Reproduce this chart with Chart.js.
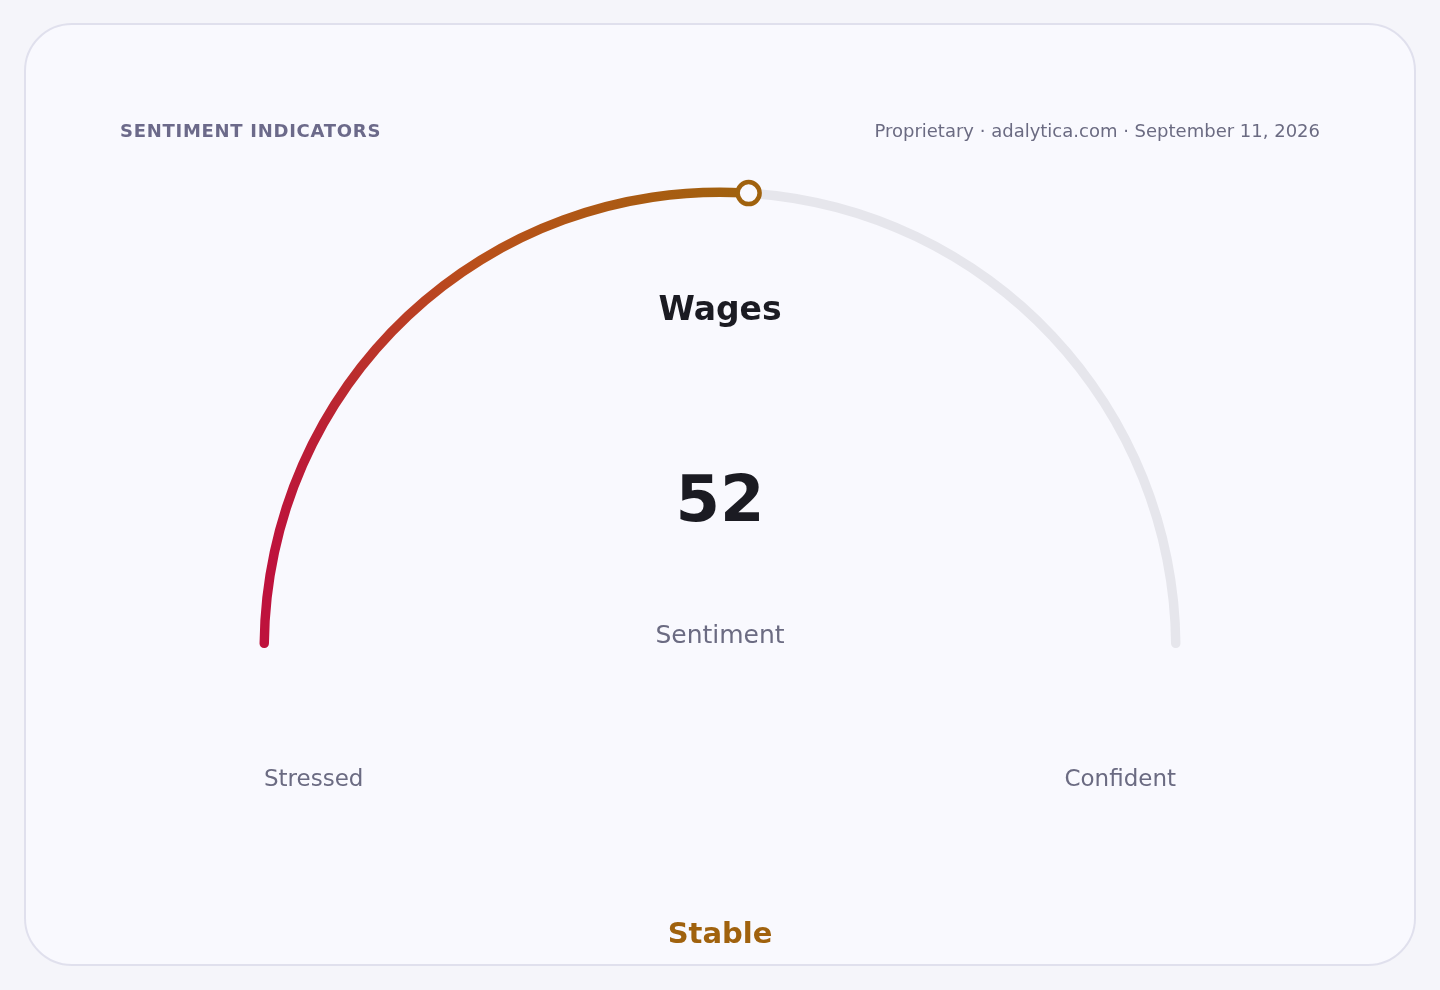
<!DOCTYPE html>
<html lang="en">
<head>
  <meta charset="UTF-8">
  <title>Sentiment Indicators</title>
  <script src="https://cdn.jsdelivr.net/npm/chart.js"></script>
  <style>
    * {
      box-sizing: border-box;
    }
    body {
      margin: 0;
      width: 1440px;
      height: 990px;
      background: #f5f5fa;
      font-family: "DejaVu Sans", sans-serif;
      position: relative;
      overflow: hidden;
    }
    .card {
      position: absolute;
      left: 24px;
      top: 23px;
      width: 1392px;
      height: 943px;
      background: #f9f9fe;
      border: 2px solid #e0e0ed;
      border-radius: 48px;
    }
    canvas {
      position: absolute;
      left: 0;
      top: 0;
    }
    .txt {
      position: absolute;
      line-height: 1;
      white-space: nowrap;
    }
    .center {
      left: 0;
      width: 1440px;
      text-align: center;
    }
    #kicker {
      left: 120px;
      top: 121.8px;
      font-size: 18px;
      font-weight: bold;
      letter-spacing: 0.72px;
      color: #6c6a8a;
    }
    #source {
      right: 120px;
      top: 121.8px;
      font-size: 18px;
      color: #6b6b82;
    }
    #metric {
      top: 292px;
      font-size: 33px;
      font-weight: bold;
      color: #1b1b22;
    }
    #value {
      top: 467px;
      font-size: 64px;
      font-weight: bold;
      color: #1b1b22;
    }
    #unit {
      top: 622px;
      font-size: 25px;
      color: #6b6b82;
    }
    #lowLabel {
      left: 264px;
      top: 766.5px;
      font-size: 23px;
      color: #6b6b82;
    }
    #highLabel {
      right: 264px;
      top: 766.5px;
      font-size: 23px;
      color: #6b6b82;
    }
    #status {
      top: 918.5px;
      font-size: 29px;
      font-weight: bold;
      color: #a0620e;
    }
  </style>
</head>
<body>
  <div class="card"></div>
  <canvas id="gauge" width="1440" height="990"></canvas>

  <div id="kicker" class="txt"></div>
  <div id="source" class="txt"></div>
  <div id="metric" class="txt center"></div>
  <div id="value" class="txt center"></div>
  <div id="unit" class="txt center"></div>
  <div id="lowLabel" class="txt"></div>
  <div id="highLabel" class="txt"></div>
  <div id="status" class="txt center"></div>

  <script>
    // data
    const scaleRange = [0, 100];
    const sentimentValue = 52;
    const endLabels = ["Stressed", "Confident"];
    const metricName = "Wages";
    const unitName = "Sentiment";
    const statusText = "Stable";
    const kickerText = "SENTIMENT INDICATORS";
    const sourceText = "Proprietary · adalytica.com · September 11, 2026";

    const segLabels = ["Value", "Remaining"];
    const segValues = [sentimentValue - scaleRange[0], scaleRange[1] - sentimentValue];

    const trackColor = "#e6e6ec";
    const markerColor = "#a0620e";
    const cardBg = "#f9f9fe";

    document.getElementById("kicker").textContent = kickerText;
    document.getElementById("source").textContent = sourceText;
    document.getElementById("metric").textContent = metricName;
    document.getElementById("value").textContent = sentimentValue;
    document.getElementById("unit").textContent = unitName;
    document.getElementById("lowLabel").textContent = endLabels[0];
    document.getElementById("highLabel").textContent = endLabels[1];
    document.getElementById("status").textContent = statusText;

    function segmentColor(context) {
      if (context.dataIndex !== 0) return trackColor;
      const chart = context.chart;
      const a = chart.chartArea;
      if (!a) return "#be123c";
      const cx = (a.left + a.right) / 2;
      const cy = a.bottom;
      const frac = (sentimentValue - scaleRange[0]) / (scaleRange[1] - scaleRange[0]) / 2;
      const g = chart.ctx.createConicGradient(Math.PI - 0.05, cx, cy);
      const off = 0.05 / (2 * Math.PI);
      g.addColorStop(0, "#be123c");
      g.addColorStop(off + 0.03, "#be123c");
      g.addColorStop(off + frac * 0.3, "#bb1f35");
      g.addColorStop(off + frac * 0.62, "#b9501a");
      g.addColorStop(off + frac, "#a0620e");
      g.addColorStop(1, "#a0620e");
      return g;
    }

    // ring end marker
    const markerPlugin = {
      id: "marker",
      afterDatasetsDraw(chart) {
        const arc = chart.getDatasetMeta(0).data[0];
        if (!arc) return;
        const p = arc.getProps(["x", "y", "endAngle", "innerRadius", "outerRadius"], true);
        const r = (p.innerRadius + p.outerRadius) / 2;
        const mx = p.x + r * Math.cos(p.endAngle);
        const my = p.y + r * Math.sin(p.endAngle);
        const ctx = chart.ctx;
        ctx.save();
        ctx.beginPath();
        ctx.arc(mx, my, 11, 0, Math.PI * 2);
        ctx.fillStyle = cardBg;
        ctx.fill();
        ctx.lineWidth = 4.5;
        ctx.strokeStyle = markerColor;
        ctx.stroke();
        ctx.restore();
      }
    };

    new Chart(document.getElementById("gauge"), {
      type: "doughnut",
      data: {
        labels: segLabels,
        datasets: [{
          data: segValues,
          backgroundColor: segmentColor,
          borderWidth: 0,
          borderRadius: 4.5,
          hoverOffset: 0
        }]
      },
      options: {
        responsive: false,
        animation: false,
        events: [],
        rotation: -90,
        circumference: 180,
        cutout: "97.95%",
        layout: {
          padding: { left: 259.5, right: 259.5, top: 187.5, bottom: 342 }
        },
        plugins: {
          legend: { display: false },
          tooltip: { enabled: false }
        }
      },
      plugins: [markerPlugin]
    });
  </script>
</body>
</html>
